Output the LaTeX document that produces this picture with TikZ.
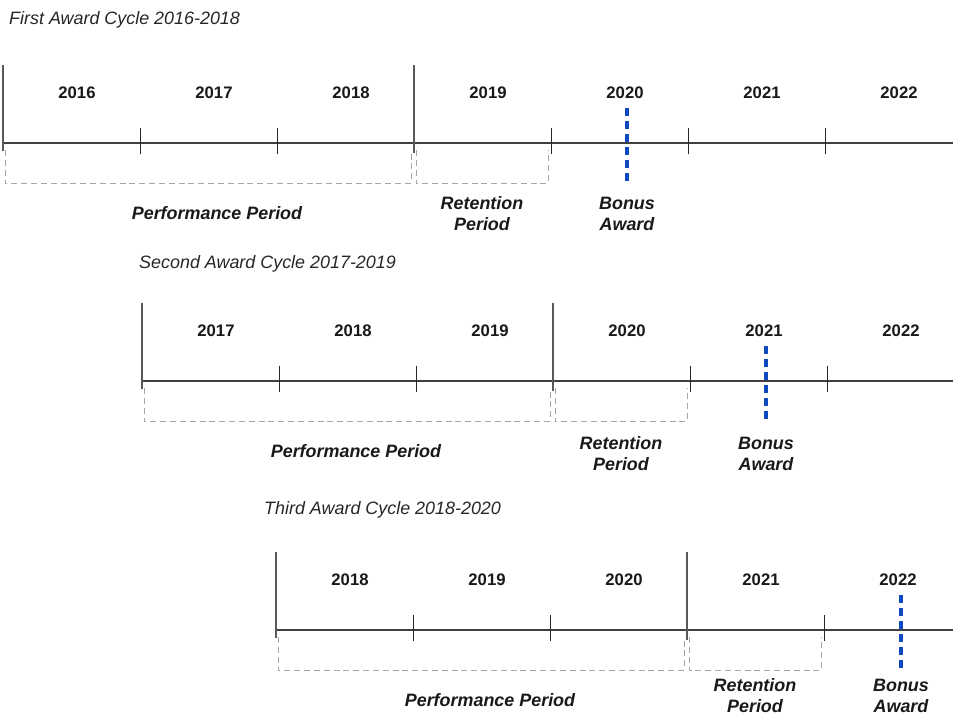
\documentclass[tikz,border=0pt]{standalone}
\usepackage{fontspec}
\setmainfont{Liberation Sans}
\definecolor{bonusblue}{RGB}{16,72,190}
\begin{document}
\begin{tikzpicture}[x=0.02cm,y=-0.02cm,
		axis/.style={draw=black!75,line width=0.6pt},
		bigtick/.style={draw=black!65,line width=0.6pt},
		smalltick/.style={draw=black!85,line width=0.5pt},
		bracket/.style={draw=black!35,dash pattern=on 3.4pt off 2.2pt,line width=0.5pt},
		bonus/.style={draw=bonusblue,line width=2.6pt,dash pattern=on 4.6pt off 2.8pt},
		year/.style={font=\fontsize{9.5}{11}\selectfont\bfseries,text=black!90},
		period/.style={font=\fontsize{10.2}{12}\selectfont\bfseries\itshape,align=center,text=black!90},
		cycle/.style={font=\fontsize{10.2}{12}\selectfont\itshape,anchor=west,text=black!85}]
		\useasboundingbox (0,0) rectangle (953,717);
		
		% one timeline per award cycle
		\foreach \xo/\ya/\fy/\cyc/\tx/\ty/\bx/\nt/\lo in {3/143/2016/First/3/20/627/6/71, 142/381/2017/Second/133/264/766/5/73, 276/630/2018/Third/258/510/901/4/66} {
			\pgfmathtruncatemacro{\ly}{\fy+2}
			\node[cycle] (title-\fy) at (\tx,\ty) {\cyc\ Award Cycle \fy-\ly}; % cycle title
			
			\draw[axis] (\xo,\ya) -- (953,\ya); % time axis
			\draw[bigtick] (\xo,\ya-78) -- (\xo,\ya+8); % start of performance
			\draw[bigtick] (\xo+411,\ya-78) -- (\xo+411,\ya+10); % end of performance
			\foreach \k in {1,...,\nt} {
				\ifnum\k=3\else
				\draw[smalltick] (\xo+\k*137,\ya-15) -- (\xo+\k*137,\ya+11); % year tick
				\fi
			}
			\foreach \k in {0,...,\nt} {
				\pgfmathtruncatemacro{\yr}{\fy+\k}
				\node[year] (y\fy-\yr) at (\xo+\k*137+74,\ya-50) {\yr}; % year label
			}
			
			\draw[bracket] (\xo+2,\ya+7) -- (\xo+2,\ya+40) -- (\xo+408,\ya+40) -- (\xo+408,\ya+7); % performance bracket
			\draw[bracket] (\xo+413,\ya+7) -- (\xo+413,\ya+40) -- (\xo+545,\ya+40) -- (\xo+545,\ya+7); % retention bracket
			\draw[bonus] (\bx,\ya-35) -- (\bx,\ya+40); % bonus award date
			
			\node[period] (perf-\fy) at (\xo+214,\ya+70) {Performance Period};
			\node[period] (ret-\fy) at (\xo+479,\ya+\lo) {Retention\\Period};
			\node[period] (bonus-\fy) at (\bx,\ya+\lo) {Bonus\\Award};
		}
\end{tikzpicture}
\end{document}
